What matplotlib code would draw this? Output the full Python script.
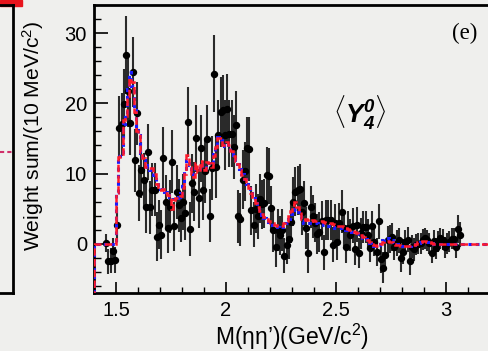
import numpy as np
import matplotlib
matplotlib.use("Agg")
import matplotlib.pyplot as plt
from matplotlib.lines import Line2D
from matplotlib.patches import Rectangle

plt.rcParams['font.family'] = ['Liberation Sans', 'DejaVu Sans']
plt.rcParams['mathtext.fontset'] = 'custom'
plt.rcParams['mathtext.rm'] = 'Liberation Sans'
plt.rcParams['mathtext.it'] = 'Liberation Sans:italic'
plt.rcParams['mathtext.bf'] = 'Liberation Sans:bold'
plt.rcParams['mathtext.bfit'] = 'Liberation Sans:italic:bold'

# ---------------- data ----------------
# data points: 10 MeV bins, centres 1.455 ... 3.065 GeV
data_first_center = 1.455
bin_width = 0.01
weights = [
    0.1, -2.5, -2.4, -1.0, -2.3, 2.7, 16.5, 17.0, 19.9, 26.9,
    21.7, 17.2, 24.5, 11.9, 18.6, 7.2, 10.5, 9.1, 5.3, 13.1,
    5.2, 7.7, 7.7, 1.0, 2.7, 1.3, 12.2, 6.0, 2.2, 5.3,
    11.7, 2.5, 7.4, 5.5, 3.7, 6.0, 4.4, 17.3, 2.1, 8.6,
    7.4, 15.0, 6.5, 13.6, 7.6, 10.3, 14.9, 4.0, 10.8, 24.2,
    11.0, 15.5, 18.8, 19.1, 15.5, 19.2, 15.7, 15.7, 13.8, 16.9,
    3.9, 3.5, 9.1, 10.3, 13.6, 13.5, 4.8, 2.7, 5.0, 3.9,
    6.4, 5.6, 5.8, 9.8, 9.7, 5.1, 1.9, -0.5, 2.0, 1.2,
    2.0, -1.7, -0.1, 0.7, 3.1, 6.0, 7.4, 7.6, 7.8, 4.5,
    5.8, 2.2, -1.3, 5.2, 3.9, 3.0, 1.4, 1.7, 3.3, -1.2,
    3.4, 3.4, 3.4, -0.1, 2.9, 0.2, 3.0, 4.6, 2.2, -0.5,
    2.2, 1.3, 2.6, -0.8, 2.7, -1.3, 1.5, 2.4, 2.4, 1.3,
    -0.6, 2.5, 0.3, -1.1, 3.2, -2.2, -3.4, -1.6, 0.5, 0.7,
    1.0, -0.5, 0.1, 0.5, -2.0, -1.1, 0.2, 0.6, -2.4, -0.4,
    -0.8, -0.1, 0.0, 0.1, 0.6, 0.8, 0.5, 0.1, -1.3, 0.4,
    -0.6, 0.3, 0.8, 0.6, -0.5, 0.0, 0.3, 0.7, 0.7, -0.5,
    2.1, 1.3,
]
errors = [
    1.3, 1.8, 1.8, 1.8, 1.8, 2.5, 4.5, 4.5, 5.0, 5.5,
    5.0, 4.5, 5.0, 4.5, 4.5, 4.0, 4.0, 3.8, 3.8, 4.0,
    3.8, 3.8, 3.8, 3.5, 3.5, 3.5, 4.5, 3.8, 3.5, 3.8,
    4.5, 3.5, 3.8, 3.8, 3.5, 4.0, 3.8, 5.0, 3.8, 4.2,
    4.2, 4.8, 4.2, 4.8, 4.2, 4.5, 4.8, 3.8, 4.5, 5.5,
    4.5, 5.0, 5.0, 5.0, 5.0, 5.0, 4.8, 4.8, 4.5, 4.8,
    3.8, 3.8, 4.2, 4.2, 4.5, 4.5, 3.5, 3.2, 3.5, 3.2,
    3.5, 3.5, 3.5, 4.0, 4.0, 3.2, 3.0, 2.8, 3.0, 2.8,
    3.0, 2.5, 2.8, 2.8, 3.0, 3.5, 3.5, 3.5, 3.5, 3.2,
    3.2, 3.0, 2.8, 3.0, 3.0, 2.8, 2.8, 2.8, 2.8, 2.5,
    2.8, 2.8, 2.8, 2.5, 2.8, 2.5, 2.8, 3.0, 2.5, 2.3,
    2.5, 2.3, 2.5, 2.2, 2.5, 2.2, 2.2, 2.3, 2.3, 2.2,
    2.0, 2.2, 2.0, 2.0, 2.5, 2.0, 2.2, 2.0, 2.0, 2.0,
    2.0, 1.8, 1.8, 1.8, 2.0, 1.8, 1.8, 1.8, 2.0, 1.6,
    1.6, 1.5, 1.5, 1.5, 1.5, 1.5, 1.5, 1.5, 1.5, 1.5,
    1.5, 1.5, 1.5, 1.5, 1.5, 1.5, 1.5, 1.5, 1.5, 1.5,
    2.0, 1.8,
]

# fit curves: 10 MeV bins from 1.40 to 3.20 GeV
fit_lo, fit_hi = 1.40, 3.20
fit_red = [
    0.0, 0.0, 0.0, 0.0, 0.0, 0.0, 0.0, 0.0, 0.0, 0.0,
    7.2, 12.3, 12.5, 17.6, 18.2, 21.0, 23.6, 23.0, 18.8, 16.0,
    15.8, 13.1, 12.2, 11.0, 11.0, 10.8, 10.8, 10.0, 8.5, 7.7,
    7.6, 7.8, 7.2, 7.0, 6.6, 5.0, 6.3, 6.5, 6.5, 6.8,
    8.0, 10.0, 12.7, 11.0, 10.0, 9.5, 11.5, 10.2, 11.8, 11.0,
    10.5, 11.7, 11.5, 11.0, 12.5, 13.8, 15.0, 15.0, 14.0, 14.0,
    14.5, 14.0, 13.2, 12.5, 11.8, 11.3, 10.5, 9.8, 9.2, 8.6,
    8.0, 7.3, 6.6, 5.8, 5.2, 4.7, 4.2, 3.8, 3.5, 3.2,
    3.0, 2.9, 2.7, 2.6, 2.5, 2.6, 2.9, 3.3, 4.0, 4.7,
    5.5, 5.9, 5.2, 4.5, 3.6, 3.4, 3.5, 3.4, 3.3, 3.4,
    3.3, 3.3, 3.2, 3.2, 3.1, 3.0, 3.0, 2.9, 2.8, 2.7,
    2.6, 2.6, 2.5, 2.4, 2.2, 2.1, 2.0, 1.8, 1.7, 1.6,
    1.4, 1.2, 1.0, 0.8, 0.5, 0.2, 0.0, -0.2, -0.3, -0.2,
    0.0, 0.3, 0.4, 0.4, 0.3, 0.2, 0.0, -0.1, -0.2, -0.3,
    -0.3, -0.3, -0.3, -0.3, -0.2, -0.1, 0.0, 0.2, 0.3, 0.4,
    0.4, 0.3, 0.2, 0.1, 0.0, 0.0, 0.0, 0.0, 0.0, 0.0,
    0.0, 0.0, 0.0, 0.0, 0.0, 0.0, 0.0, 0.0, 0.0, 0.0,
    0.0, 0.0, 0.0, 0.0, 0.0, 0.0, 0.0, 0.0, 0.0, 0.0,
]
fit_blue = [
    0.0, 0.0, 0.0, 0.0, 0.0, 0.0, 0.0, 0.0, 0.0, 0.0,
    7.4, 12.5, 12.8, 17.0, 18.5, 22.0, 24.5, 22.5, 19.0, 16.2,
    15.5, 13.0, 12.0, 11.2, 11.0, 10.5, 10.5, 9.8, 8.8, 7.9,
    7.8, 7.6, 7.4, 7.0, 6.6, 6.4, 6.4, 6.5, 6.6, 7.2,
    8.5, 10.5, 12.0, 11.2, 10.4, 10.0, 10.8, 10.6, 11.3, 11.0,
    10.8, 11.2, 11.5, 11.3, 12.8, 14.2, 15.2, 14.8, 14.3, 13.9,
    14.2, 13.8, 13.3, 12.6, 12.0, 11.4, 10.6, 9.9, 9.2, 8.5,
    7.9, 7.2, 6.5, 5.8, 5.2, 4.6, 4.1, 3.7, 3.4, 3.1,
    2.9, 2.7, 2.5, 2.4, 2.3, 2.4, 2.6, 3.0, 3.6, 4.2,
    4.8, 5.0, 4.6, 3.9, 3.3, 3.0, 3.0, 3.0, 2.9, 2.9,
    2.9, 2.9, 2.8, 2.8, 2.7, 2.6, 2.6, 2.5, 2.4, 2.3,
    2.3, 2.3, 2.2, 2.1, 2.0, 1.9, 1.8, 1.7, 1.6, 1.5,
    1.3, 1.1, 0.9, 0.7, 0.4, 0.1, -0.1, -0.3, -0.3, -0.2,
    0.2, 0.5, 0.8, 0.8, 0.7, 0.5, 0.2, 0.0, -0.2, -0.3,
    -0.3, -0.3, -0.3, -0.3, -0.2, -0.1, 0.0, 0.1, 0.2, 0.3,
    0.3, 0.3, 0.2, 0.1, 0.0, 0.0, 0.0, 0.0, 0.0, 0.0,
    0.0, 0.0, 0.0, 0.0, 0.0, 0.0, 0.0, 0.0, 0.0, 0.0,
    0.0, 0.0, 0.0, 0.0, 0.0, 0.0, 0.0, 0.0, 0.0, 0.0,
]

x_ticks = [1.5, 2.0, 2.5, 3.0]
x_ticklabels = ['1.5', '2', '2.5', '3']
y_ticks = [0, 10, 20, 30]
y_ticklabels = ['0', '10', '20', '30']

# ---------------- figure ----------------
W, H = 489, 351
bg = '#efefed'
fig = plt.figure(figsize=(W / 100, H / 100), dpi=100, facecolor=bg)

def fx(px):
    return px / W

def fy(py):
    return 1 - py / H

ax_left, ax_right, ax_top, ax_bot = 94, 490, 5, 293
ax = fig.add_axes([fx(ax_left), fy(ax_bot), (ax_right - ax_left) / W, (ax_bot - ax_top) / H])
ax.set_facecolor(bg)

x_data = data_first_center + bin_width * np.arange(len(weights))
edges = np.linspace(fit_lo, fit_hi, len(fit_red) + 1)

ax.errorbar(x_data, weights, yerr=errors, fmt='o', color='black', ecolor='#2a2a2a',
            elinewidth=1.5, markersize=4.3, capsize=0, zorder=3)

ax.stairs(fit_blue, edges, baseline=-40, color='#1a1aff', lw=2.2,
          linestyle=(0, (1.2, 1.2)), zorder=5)
ax.stairs(fit_red, edges, baseline=-40, color='#ff1a2a', lw=1.8,
          linestyle=(0, (3.0, 1.3)), zorder=6)

ax.set_xlim(fit_lo, fit_hi)
ax.set_ylim(-7, 34)

ax.set_xticks(x_ticks)
ax.set_xticklabels(x_ticklabels)
ax.set_yticks(y_ticks)
ax.set_yticklabels(y_ticklabels)
ax.set_xticks(np.round(np.arange(1.4, 3.21, 0.1), 2), minor=True)
ax.set_yticks(np.arange(-6, 34, 2), minor=True)

ax.tick_params(axis='both', which='both', direction='in', labelsize=14.5, colors='black')
ax.tick_params(axis='y', which='major', length=10, width=1.2, pad=5)
ax.tick_params(axis='y', which='minor', length=5, width=1.0)
ax.tick_params(axis='x', which='major', length=8, width=1.2, pad=6)
ax.tick_params(axis='x', which='minor', length=4, width=1.0)

for s in ['left', 'bottom', 'top']:
    ax.spines[s].set_linewidth(2.0)
ax.spines['right'].set_visible(False)

ax.set_xlabel("M(ηη’)(GeV/c$^2$)", fontsize=16.5, labelpad=1)
ax.set_ylabel(r"Weight sum/(10 MeV/c$^2$)", fontsize=15.2)
ax.yaxis.set_label_coords(-0.12, 0.545)

ax.text(0.935, 0.9, '(e)', transform=ax.transAxes, fontsize=16.5,
        family=['Liberation Serif'], ha='center', va='center')
ax.text(0.67, 0.625, r'$\langle\mathbfit{Y}^{\mathbfit{0}}_{\mathbfit{4}}\rangle$',
        transform=ax.transAxes, fontsize=19, ha='center', va='center')

# remnants of the neighbouring panel on the left
k = 'black'
fig.add_artist(Line2D([fx(13), fx(13)], [fy(5), fy(293)], color=k, lw=2.0, transform=fig.transFigure))
fig.add_artist(Line2D([0, fx(13)], [fy(5), fy(5)], color=k, lw=2.0, transform=fig.transFigure))
fig.add_artist(Line2D([0, fx(13)], [fy(293), fy(293)], color=k, lw=2.0, transform=fig.transFigure))
fig.add_artist(Line2D([0, fx(13)], [fy(152), fy(152)], color='#d0306a', lw=1.5,
                      linestyle=(0, (2, 1.5)), transform=fig.transFigure))
fig.add_artist(Rectangle((0, fy(6)), fx(22), 6 / H, color='#e8141c', transform=fig.transFigure))

fig.savefig('out.png', dpi=100, facecolor=bg)
